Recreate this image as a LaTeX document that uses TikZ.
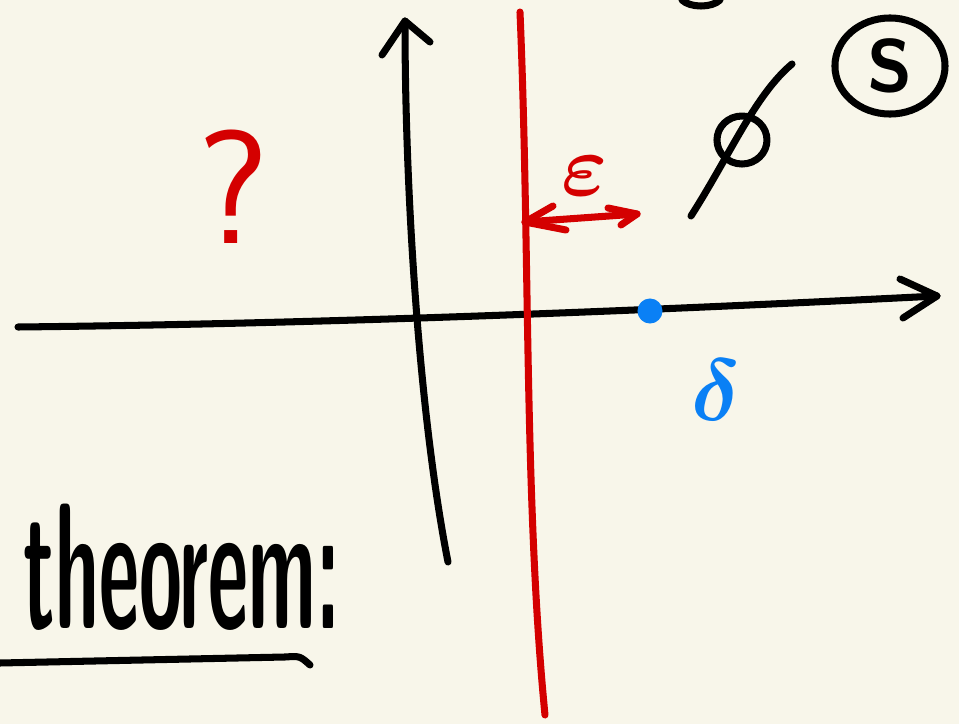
\documentclass[tikz,border=0pt]{standalone}
\usepackage{graphicx}
\usepackage{amsmath, amssymb, bm}
\usetikzlibrary{calc, shapes.geometric}
\definecolor{paper}{HTML}{F8F6EA}
\definecolor{inkred}{HTML}{D40000}
\definecolor{inkblue}{HTML}{0A80F5}

\begin{document}
\begin{tikzpicture}[x=0.01cm, y=-0.01cm,
  every node/.append style={inner sep=0pt, outer sep=0pt},
  pen/.style={line width=2pt, line cap=round, line join=round},
  redpen/.style={pen, draw=inkred},
  bluepen/.style={pen, draw=inkblue},
  lbl/.style={font=\sffamily},
]
\fill[paper] (0,0) rectangle (959,724);
\useasboundingbox (0,0) rectangle (959,724);

%% --- axes -----------------------------------------------------------------
\coordinate (xl) at (18,327);
\coordinate (xr) at (937,296);
\draw[pen] (xl) .. controls (300,324) and (600,313) .. (xr);
\draw[pen] (900,279) -- (xr) -- (903,318);
\coordinate (yb) at (448,562);
\coordinate (yt) at (405,21);
\draw[pen] (yb) .. controls (420,420) and (405,200) .. (yt);
\draw[pen] (382,55) -- (yt) -- (430,42);

%% --- red line and epsilon -------------------------------------------------
\coordinate (rt) at (520,12);
\coordinate (rb) at (545,715);
\draw[redpen] (rt) .. controls (530,250) and (524,500) .. (rb);
\coordinate (el) at (525,222);
\coordinate (er) at (637,214);
\draw[redpen] (el) -- (er);
\draw[redpen] (553,206) -- (el) -- (566,230);
\draw[redpen] (608,208) -- (er) -- (621,225);
\node[text=inkred, font=\fontsize{34}{34}\selectfont] (eps) at (585,176) {$\bm{\varepsilon}$};
\node[lbl, text=inkred, font=\sffamily\fontsize{46}{46}\selectfont] (qmark) at (233,187) {?};

%% --- blue point and delta -------------------------------------------------
\node[circle, fill=inkblue, minimum size=0.25cm] (pt) at (650,311) {};
\node[text=inkblue, font=\fontsize{28}{28}\selectfont] (delta) at (716,390) {$\bm{\delta}$};

%% --- slashed circle, circled S, top arc -----------------------------------
\draw[pen] (742,140) ellipse [x radius=25, y radius=24];
\draw[pen] (691,216) .. controls (730,155) and (755,95) .. (792,64);
\node[draw, ellipse, line width=2pt, minimum width=1.1cm, minimum height=0.96cm,
      lbl, font=\sffamily\bfseries\fontsize{21}{21}\selectfont] (sset) at (890,66) {S};
\draw[pen] (682,0) .. controls (690,8) and (712,8) .. (720,0);

%% --- theorem --------------------------------------------------------------
\node[lbl, anchor=base west, font=\sffamily\bfseries\fontsize{30}{30}\selectfont] (thm) at (24,628)
  {\scalebox{0.74}[1.7]{theorem:}};
\draw[pen] (0,663) -- (285,657) .. controls (300,656) .. (310,665);

\end{tikzpicture}
\end{document}
